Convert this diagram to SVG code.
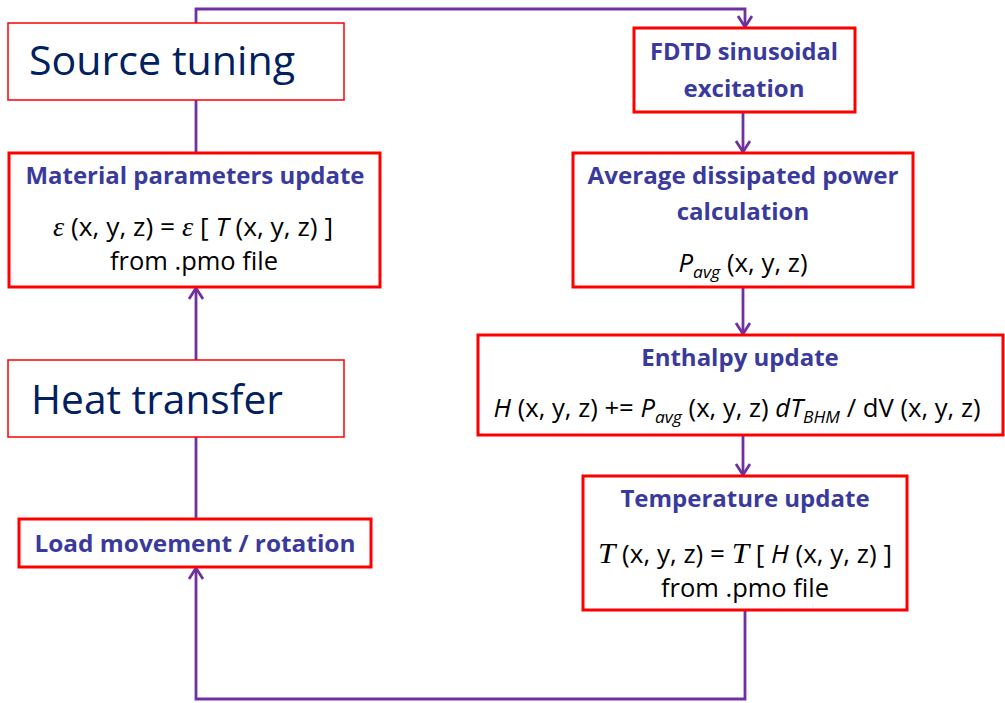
<svg xmlns="http://www.w3.org/2000/svg" width="1005" height="703" viewBox="0 0 1005 703">
<style>
.thin{fill:#fff;stroke:#ff0000;stroke-width:1.5}
.thick{fill:#fff;stroke:#ff0000;stroke-width:3}
.big{font-family:'Open Sans','Liberation Sans',sans-serif;font-size:40px;fill:#002060}
.title{font-family:'Open Sans','Liberation Sans',sans-serif;font-weight:bold;font-size:24px;fill:#3a3a9c;text-anchor:middle}
.body{font-family:'Open Sans','Liberation Sans',sans-serif;font-size:25px;fill:#000;text-anchor:middle}
.it{font-style:italic}
.sym{font-family:'Liberation Serif',serif;font-style:italic}
.conn{fill:none;stroke:#7030a0;stroke-width:2.8}
</style>
<defs>
<marker id="arr" markerUnits="userSpaceOnUse" markerWidth="20" markerHeight="20" refX="12" refY="8" orient="auto" viewBox="0 0 20 20">
<path d="M1,1 L12,8 L1,15" fill="none" stroke="#7030a0" stroke-width="2.8"/>
</marker>
</defs>
<g id="connectors">
<path class="conn" d="M196,153 V9 H745 V27" marker-end="url(#arr)"/>
<path class="conn" d="M743,112 V152" marker-end="url(#arr)"/>
<path class="conn" d="M743,287 V334" marker-end="url(#arr)"/>
<path class="conn" d="M743,435 V475" marker-end="url(#arr)"/>
<path class="conn" d="M745,610 V699 H196 V568" marker-end="url(#arr)"/>
<path class="conn" d="M196,519 V288" marker-end="url(#arr)"/>
</g>
<g id="source-tuning">
<rect class="thin" x="8" y="23" width="336" height="77"/>
<text class="big" x="29" y="75" textLength="266" lengthAdjust="spacingAndGlyphs">Source tuning</text>
</g>
<g id="fdtd">
<rect class="thick" x="634" y="28" width="221" height="84"/>
<text class="title" x="744" y="60" textLength="188" lengthAdjust="spacingAndGlyphs">FDTD sinusoidal</text>
<text class="title" x="744" y="97">excitation</text>
</g>
<g id="material">
<rect class="thick" x="9" y="153" width="371" height="134"/>
<text class="title" x="195" y="184" textLength="339" lengthAdjust="spacingAndGlyphs">Material parameters update</text>
<text class="body" x="193" y="236" textLength="280" lengthAdjust="spacingAndGlyphs"><tspan class="sym" font-size="27">ε</tspan> (x, y, z) = <tspan class="sym" font-size="27">ε</tspan> [ <tspan class="it">T</tspan> (x, y, z) ]</text>
<text class="body" x="194" y="270" textLength="168" lengthAdjust="spacingAndGlyphs">from .pmo file</text>
</g>
<g id="average">
<rect class="thick" x="573" y="153" width="340" height="134"/>
<text class="title" x="743" y="184" textLength="311" lengthAdjust="spacingAndGlyphs">Average dissipated power</text>
<text class="title" x="743" y="220">calculation</text>
<text class="body" x="743" y="272" textLength="129" lengthAdjust="spacingAndGlyphs"><tspan class="it">P</tspan><tspan class="it" font-size="17" dy="6">avg</tspan><tspan dy="-6"> (x, y, z)</tspan></text>
</g>
<g id="heat-transfer">
<rect class="thin" x="8" y="360" width="336" height="77"/>
<text class="big" x="31" y="414" textLength="252" lengthAdjust="spacingAndGlyphs">Heat transfer</text>
</g>
<g id="enthalpy">
<rect class="thick" x="478" y="335" width="525" height="100"/>
<text class="title" x="740" y="366">Enthalpy update</text>
<text class="body" x="737" y="417" textLength="487" lengthAdjust="spacingAndGlyphs"><tspan class="it">H</tspan> (x, y, z) += <tspan class="it">P</tspan><tspan class="it" font-size="17" dy="6">avg</tspan><tspan dy="-6"> (x, y, z) </tspan><tspan class="it">dT</tspan><tspan class="it" font-size="17" dy="6">BHM</tspan><tspan dy="-6"> / dV (x, y, z)</tspan></text>
</g>
<g id="temperature">
<rect class="thick" x="583" y="476" width="324" height="134"/>
<text class="title" x="745" y="507">Temperature update</text>
<text class="body" x="745" y="563" textLength="294" lengthAdjust="spacingAndGlyphs"><tspan class="sym" font-size="30">T</tspan> (x, y, z) = <tspan class="sym" font-size="30">T</tspan> [ <tspan class="it">H</tspan> (x, y, z) ]</text>
<text class="body" x="745" y="597" textLength="168" lengthAdjust="spacingAndGlyphs">from .pmo file</text>
</g>
<g id="load">
<rect class="thick" x="19" y="519" width="352" height="48"/>
<text class="title" x="195" y="552" textLength="321" lengthAdjust="spacingAndGlyphs">Load movement / rotation</text>
</g>
</svg>
